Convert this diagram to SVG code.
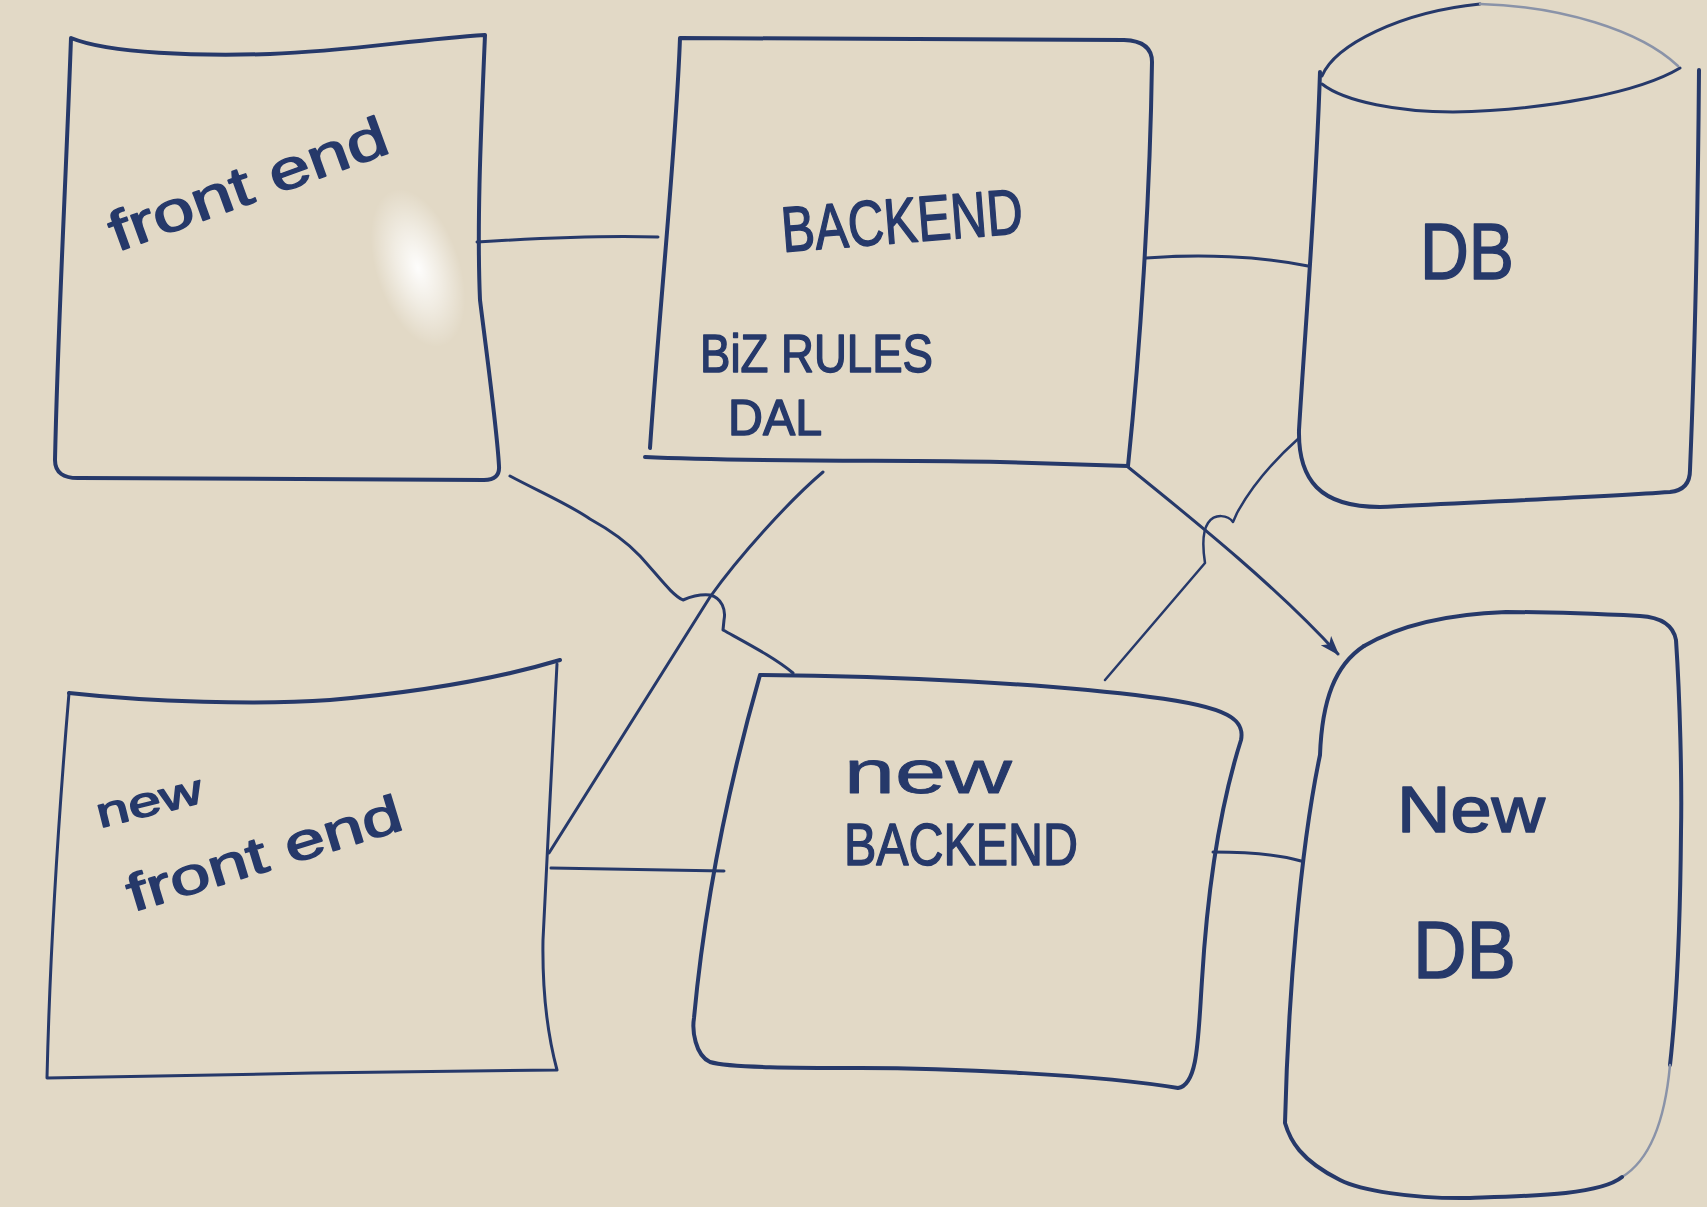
<svg xmlns="http://www.w3.org/2000/svg" width="1707" height="1207" viewBox="0 0 1707 1207">
<defs>
<style>
.ink{fill:none;stroke:#26396a;stroke-width:4;stroke-linecap:round;stroke-linejoin:round}
.thin{stroke-width:3}
.faint{stroke:#8a93a8;stroke-width:2.5}
.lbl{font-family:"Liberation Sans",Arial,sans-serif;fill:#26396a;stroke:#26396a;stroke-width:1.5;stroke-linejoin:round}
</style>
<marker id="arr" markerUnits="userSpaceOnUse" markerWidth="22" markerHeight="18" refX="18" refY="8" orient="auto">
<path d="M0,1 L20,8 L0,15 L5,8 Z" fill="#26396a"/>
</marker>
<radialGradient id="glare" cx="0.5" cy="0.5" r="0.5">
<stop offset="0" stop-color="#ffffff" stop-opacity="0.95"/>
<stop offset="0.5" stop-color="#ffffff" stop-opacity="0.5"/>
<stop offset="1" stop-color="#ffffff" stop-opacity="0"/>
</radialGradient>
</defs>
<rect x="0" y="0" width="1707" height="1207" fill="#e2d9c6"/>
<ellipse cx="418" cy="268" rx="42" ry="82" transform="rotate(-18 418 268)" fill="url(#glare)"/>

<g id="connectors">
<path class="ink thin" d="M477,242 C540,238 600,235 658,237"/>
<path class="ink thin" d="M1146,258 C1200,254 1260,256 1308,266"/>
<path class="ink thin" d="M510,476 C540,492 570,505 590,519 C610,530 625,540 640,556 C660,578 672,595 683,600 C690,597 700,594 710,595 C722,598 726,610 724,620 L723,630 C750,645 775,658 793,673"/>
<path class="ink thin" d="M823,472 C790,500 740,555 710,597 L549,853"/>
<path class="ink thin" d="M551,868 C620,869 680,870 724,871"/>
<path class="ink thin" d="M1213,852 C1250,852 1280,855 1301,861"/>
<path class="ink thin" d="M1128,467 C1200,525 1280,590 1338,654" marker-end="url(#arr)"/>
<path class="ink" style="stroke-width:2.5" d="M1299,438 C1280,455 1255,480 1237,513 L1233,522 C1228,515 1215,513 1208,523 C1202,532 1203,550 1205,563 L1105,680"/>
</g>

<g id="frontend">
<path class="ink" d="M71,38 C110,54 200,56 270,54 C350,51 410,40 485,35 C480,150 477,230 480,300 C490,380 497,430 499,466 Q500,480 484,480 L80,478 Q55,479 55,460 C58,320 66,180 71,38 Z"/>
<text class="lbl" x="117" y="252" font-size="56" textLength="293" lengthAdjust="spacingAndGlyphs" transform="rotate(-20 117 252)">front end</text>
</g>

<g id="backend">
<path class="ink" d="M650,448 C660,300 676,150 680,38 L1124,40 Q1152,41 1152,62 C1150,200 1140,350 1128,466"/>
<path class="ink" d="M645,457 C750,462 900,460 1000,462 L1128,466"/>
<text class="lbl" x="783" y="252" font-size="64" textLength="242" lengthAdjust="spacingAndGlyphs" transform="rotate(-4.5 783 252)">BACKEND</text>
<text class="lbl" x="700" y="372" font-size="54" textLength="233" lengthAdjust="spacingAndGlyphs">BiZ RULES</text>
<text class="lbl" x="728" y="435" font-size="50" textLength="94" lengthAdjust="spacingAndGlyphs">DAL</text>
</g>

<g id="db">
<path class="ink thin" d="M1322,76 C1335,45 1400,12 1480,4"/>
<path class="ink faint" d="M1480,4 C1560,6 1640,30 1678,66"/>
<path class="ink thin" d="M1322,84 C1345,102 1400,112 1453,112 C1550,110 1640,92 1680,68"/>
<path class="ink" d="M1320,72 C1316,200 1305,330 1299,430 C1298,480 1320,507 1380,507 C1480,502 1600,497 1670,492 Q1690,490 1690,470 C1695,350 1698,200 1699,70"/>
<text class="lbl" x="1420" y="279" font-size="80" textLength="94" lengthAdjust="spacingAndGlyphs">DB</text>
</g>

<g id="new-frontend">
<path class="ink" d="M69,693 C150,702 260,705 330,700 C420,692 500,678 560,660"/>
<path class="ink thin" d="M557,664 C553,750 547,850 543,940 C542,1000 549,1040 557,1070 C400,1072 200,1074 47,1078 C50,950 60,800 69,693"/>
<text class="lbl" x="100" y="828" font-size="42" textLength="108" lengthAdjust="spacingAndGlyphs" transform="rotate(-14 100 828)">new</text>
<text class="lbl" x="133" y="912" font-size="52" textLength="285" lengthAdjust="spacingAndGlyphs" transform="rotate(-17 133 912)">front end</text>
</g>

<g id="new-backend">
<path class="ink" d="M760,675 C900,676 1050,684 1150,697 C1230,707 1245,720 1241,740 C1222,800 1208,880 1202,980 C1198,1040 1198,1085 1178,1088 C1100,1075 950,1068 860,1068 C800,1068 730,1068 710,1062 C695,1055 692,1030 694,1018 C705,900 730,780 760,675"/>
<text class="lbl" x="844" y="793" font-size="62" textLength="168" lengthAdjust="spacingAndGlyphs" style="stroke-width:0.8">new</text>
<text class="lbl" x="844" y="865" font-size="60" textLength="234" lengthAdjust="spacingAndGlyphs">BACKEND</text>
</g>

<g id="new-db">
<path class="ink" d="M1364,646 C1400,625 1450,614 1506,612 C1560,612 1600,614 1640,616 Q1672,618 1676,640 C1680,700 1682,780 1681,832 C1680,950 1675,1020 1670,1065"/>
<path class="ink faint" d="M1670,1065 C1665,1120 1650,1160 1622,1177"/>
<path class="ink" d="M1622,1177 C1600,1195 1530,1196 1470,1198 C1410,1199 1360,1190 1340,1180 C1300,1160 1290,1140 1285,1123 C1288,1000 1300,850 1320,755 C1322,700 1335,665 1364,646"/>
<text class="lbl" x="1397" y="832" font-size="64" textLength="148" lengthAdjust="spacingAndGlyphs">New</text>
<text class="lbl" x="1413" y="978" font-size="82" textLength="103" lengthAdjust="spacingAndGlyphs">DB</text>
</g>
</svg>
